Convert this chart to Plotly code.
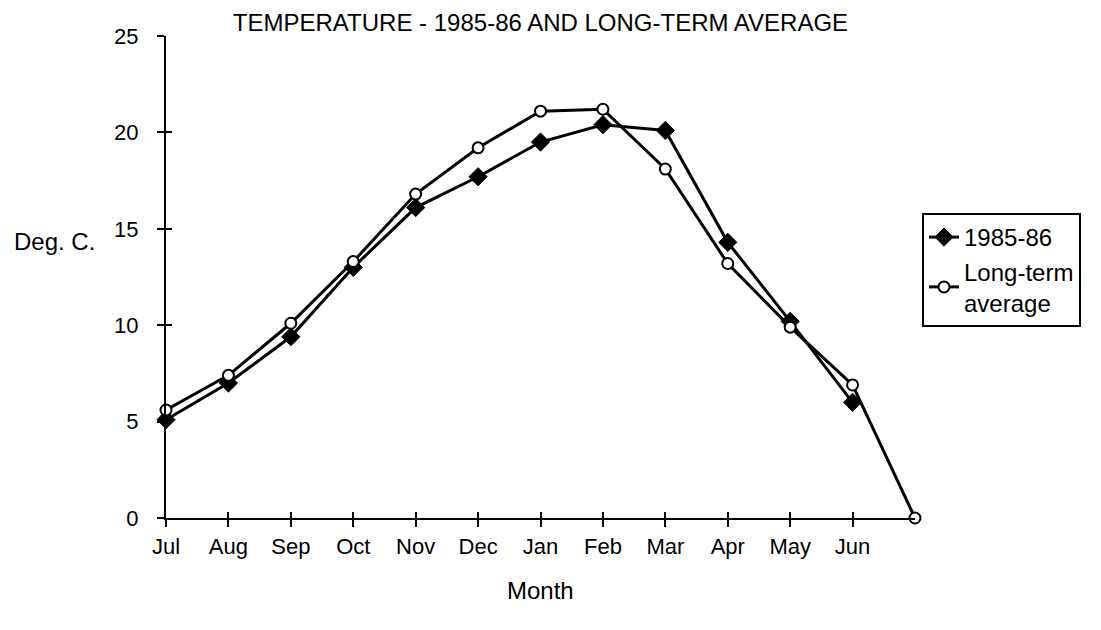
import plotly.graph_objects as go

months = ["Jul", "Aug", "Sep", "Oct", "Nov", "Dec", "Jan", "Feb", "Mar", "Apr", "May", "Jun", ""]
temp_1985_86 = [5.1, 7.0, 9.4, 13.0, 16.1, 17.7, 19.5, 20.4, 20.1, 14.3, 10.2, 6.0, None]
temp_longterm = [5.6, 7.4, 10.1, 13.3, 16.8, 19.2, 21.1, 21.2, 18.1, 13.2, 9.9, 6.9, 0.0]
y_ticks = [0, 5, 10, 15, 20, 25]

FONT = "Liberation Sans, Arial, Helvetica, sans-serif"
pos = list(range(len(months)))
tick_pos = [p for p, m in zip(pos, months) if m]
tick_txt = [m for m in months if m]

# page is offset by the 8px body margin
OFF = 8
W, H = 1101 - OFF, 630 - OFF
PX0, PX1, PY0, PY1 = 166, 915, 36, 518  # plot area in page pixels


def px(x):
    return (x - PX0) / (PX1 - PX0)


def py(y):
    return (PY1 - y) / (PY1 - PY0)


fig = go.Figure()
fig.add_trace(go.Scatter(
    x=pos, y=temp_1985_86, name="1985-86", mode="lines+markers", cliponaxis=False,
    line=dict(color="black", width=3),
    marker=dict(symbol="diamond", size=14, color="black", line=dict(color="black", width=1)),
))
fig.add_trace(go.Scatter(
    x=pos, y=temp_longterm, name="Long-term<br>average", mode="lines+markers", cliponaxis=False,
    line=dict(color="black", width=3),
    marker=dict(symbol="circle", size=11, color="white", line=dict(color="black", width=2)),
))
# invisible trace on overlay axes for the inner part of crossing ticks
fig.add_trace(go.Scatter(x=[0], y=[0], xaxis="x2", yaxis="y2", mode="markers",
                         marker=dict(opacity=0), showlegend=False, hoverinfo="skip"))

fig.update_layout(
    width=W, height=H,
    margin=dict(l=PX0 - OFF, r=W - (PX1 - OFF), t=PY0 - OFF, b=H - (PY1 - OFF)),
    paper_bgcolor="white", plot_bgcolor="white",
    font=dict(family=FONT, size=22, color="black"),
    title=dict(text="TEMPERATURE - 1985-86 AND LONG-TERM AVERAGE",
               x=((PX0 + PX1) / 2 - OFF) / W, xanchor="center", y=1 - (23 - OFF) / H, yanchor="middle",
               font=dict(size=24, family=FONT)),
    xaxis=dict(range=[0, 12], tickvals=tick_pos, ticktext=tick_txt,
               showgrid=False, zeroline=False, showline=True, linecolor="black", linewidth=2,
               ticks="outside", ticklen=7, tickwidth=2, tickcolor="black",
               tickfont=dict(size=22), ticklabelstandoff=1),
    yaxis=dict(range=[0, 25], tickvals=y_ticks,
               showgrid=False, zeroline=False, showline=True, linecolor="black", linewidth=2,
               ticks="outside", ticklen=7, tickwidth=2, tickcolor="black",
               tickfont=dict(size=22), ticklabelstandoff=14),
    xaxis2=dict(overlaying="x", range=[0, 12], tickvals=tick_pos, showticklabels=False,
                showgrid=False, zeroline=False, ticks="inside", ticklen=6, tickwidth=2,
                tickcolor="black", side="bottom", anchor="y"),
    yaxis2=dict(overlaying="y", range=[0, 25], tickvals=y_ticks, showticklabels=False,
                showgrid=False, zeroline=False, ticks="inside", ticklen=6, tickwidth=2,
                tickcolor="black", side="left", anchor="x"),
    legend=dict(x=px(922), y=py(213), xanchor="left", yanchor="top",
                bordercolor="black", borderwidth=2, bgcolor="white",
                font=dict(size=24, family=FONT), tracegroupgap=4, itemwidth=30),
    showlegend=True,
)
fig.add_annotation(text="Deg. C.", xref="paper", yref="paper", x=px(12), y=py(241),
                   xanchor="left", yanchor="middle", showarrow=False,
                   font=dict(size=24, family=FONT))
fig.add_annotation(text="Month", xref="paper", yref="paper", x=px(540), y=py(590),
                   xanchor="center", yanchor="middle", showarrow=False,
                   font=dict(size=24, family=FONT))

fig.write_html("out.html")
